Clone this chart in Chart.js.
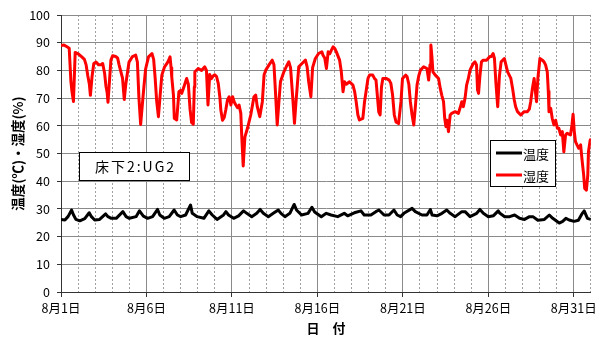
<!DOCTYPE html>
<html>
<head>
<meta charset="utf-8">
<script src="https://cdn.jsdelivr.net/npm/chart.js@4"></script>
<style>
  html, body { margin: 0; padding: 0; background: #fff; }
  canvas { display: block; }
</style>
</head>
<body>
<canvas id="c" width="601" height="340"></canvas>
<script>
// Days elapsed since 8/1 00:00, and the date labels shown on the x axis
const tickDays = [0, 5, 10, 15, 20, 25, 30];
const tickLabels = ['8月1日', '8月6日', '8月11日', '8月16日', '8月21日', '8月26日', '8月31日'];

const seriesNames = ['温度', '湿度'];
const locationLabel = '床下2:UG2';

// Temperature (°C)
const tempDays = [0.0, 0.23, 0.42, 0.62, 0.72, 0.87, 1.1, 1.39, 1.65, 1.78, 1.97, 2.26, 2.61, 2.75, 2.94,
  3.23, 3.62, 3.81, 4.0, 4.39, 4.59, 4.82, 5.07, 5.36, 5.65, 5.78, 6.04, 6.33, 6.62, 6.81, 7.0, 7.29,
  7.58, 7.68, 7.97, 8.36, 8.65, 8.85, 9.13, 9.51, 9.65, 9.8, 10.1, 10.39, 10.68, 10.87, 11.16, 11.45,
  11.65, 11.84, 12.13, 12.42, 12.71, 12.87, 13.1, 13.39, 13.64, 13.78, 14.07, 14.45, 14.68, 14.84,
  15.23, 15.52, 15.8, 16.19, 16.57, 16.77, 17.16, 17.55, 17.74, 18.13, 18.42, 18.6, 18.9, 19.19,
  19.48, 19.67, 19.87, 20.06, 20.54, 20.73, 21.12, 21.41, 21.61, 21.71, 22.0, 22.29, 22.57, 22.77,
  23.06, 23.45, 23.64, 23.93, 24.32, 24.51, 24.71, 25.0, 25.29, 25.58, 25.68, 25.96, 26.25, 26.54,
  26.83, 27.12, 27.41, 27.61, 27.9, 28.28, 28.57, 28.77, 29.15, 29.35, 29.54, 29.73, 30.02, 30.27,
  30.5, 30.61, 30.8, 31.0];
const tempValues = [26.2, 26.0, 27.3, 29.6, 28.0, 26.2, 25.7, 26.5, 28.6, 27.2, 26.0, 26.2, 28.2, 27.2, 26.6,
  26.6, 29.0, 27.2, 26.6, 27.2, 29.3, 27.4, 26.6, 27.2, 29.8, 27.8, 26.6, 27.2, 29.6, 27.8, 27.2, 27.8,
  31.4, 28.4, 27.2, 26.6, 29.3, 27.8, 26.2, 27.8, 29.0, 27.8, 26.6, 27.5, 29.3, 28.4, 27.2, 28.4,
  29.8, 28.4, 27.2, 28.4, 29.6, 28.4, 27.2, 28.4, 31.6, 29.6, 27.8, 28.4, 30.6, 28.9,
  27.2, 28.4, 27.8, 27.2, 28.4, 27.5, 28.6, 29.3, 27.8, 27.8, 29.0, 29.6, 27.8, 27.8,
  29.6, 27.8, 27.2, 28.4, 30.2, 29.0, 27.8, 27.8, 29.8, 27.8, 27.5, 28.4, 29.6, 28.4,
  27.2, 29.0, 29.0, 27.2, 28.4, 29.8, 28.4, 27.2, 27.5, 29.3, 28.4, 27.2, 27.2, 27.8,
  26.6, 26.2, 27.2, 27.2, 25.9, 26.2, 27.8, 26.6, 24.9, 25.5, 26.6, 26.0, 25.5, 25.9,
  28.4, 29.3, 26.6, 26.2];

// Relative humidity (%)
const humDays = [0.0, 0.17, 0.35, 0.48, 0.58, 0.64, 0.73, 0.83, 1.0, 1.2, 1.37, 1.47, 1.57, 1.66, 1.72,
  1.82, 1.92, 2.05, 2.2, 2.35, 2.44, 2.55, 2.63, 2.7, 2.75, 2.92, 3.02, 3.2, 3.31, 3.4, 3.5, 3.6, 3.7,
  3.79, 3.98, 4.18, 4.37, 4.47, 4.56, 4.66, 4.82, 4.95, 5.12, 5.32, 5.42, 5.51, 5.6, 5.7, 5.8, 5.9,
  6.06, 6.2, 6.3, 6.38, 6.44, 6.48, 6.58, 6.63, 6.77, 6.9, 7.0, 7.06, 7.16, 7.35, 7.45, 7.55, 7.64,
  7.74, 7.8, 7.83, 8.03, 8.22, 8.41, 8.51, 8.6, 8.7, 8.8, 8.9, 9.0, 9.1, 9.2, 9.3, 9.35, 9.45, 9.55,
  9.64, 9.74, 9.84, 9.94, 10.04, 10.14, 10.23, 10.33, 10.42, 10.52, 10.57, 10.62, 10.66, 10.76,
  10.91, 11.1, 11.29, 11.39, 11.48, 11.63, 11.78, 11.88, 11.98, 12.17, 12.36, 12.46, 12.55, 12.65,
  12.75, 12.84, 13.04, 13.23, 13.33, 13.43, 13.56, 13.66, 13.75, 13.91, 14.1, 14.3, 14.4, 14.49,
  14.62, 14.72, 14.88, 15.07, 15.26, 15.33, 15.43, 15.53, 15.63, 15.72, 15.82, 15.92, 16.01, 16.11,
  16.3, 16.4, 16.5, 16.59, 16.69, 16.88, 17.08, 17.18, 17.27, 17.37, 17.46, 17.66, 17.76, 17.96,
  18.05, 18.24, 18.34, 18.43, 18.59, 18.67, 18.75, 18.83, 19.02, 19.2, 19.3, 19.4, 19.5, 19.6,
  19.75, 19.89, 19.98, 20.17, 20.25, 20.35, 20.44, 20.54, 20.64, 20.74, 20.83, 20.93, 21.03, 21.22,
  21.41, 21.51, 21.59, 21.64, 21.7, 21.76, 21.9, 22.09, 22.19, 22.28, 22.38, 22.45, 22.52, 22.58,
  22.67, 22.77, 22.86, 23.06, 23.25, 23.35, 23.45, 23.54, 23.64, 23.73, 23.83, 23.93, 24.12, 24.22,
  24.31, 24.37, 24.43, 24.51, 24.6, 24.7, 24.9, 25.09, 25.18, 25.28, 25.36, 25.45, 25.55, 25.65,
  25.75, 25.94, 26.03, 26.13, 26.32, 26.42, 26.52, 26.6, 26.71, 26.9, 27.1, 27.29, 27.4, 27.48,
  27.58, 27.68, 27.78, 27.82, 27.9, 28.02, 28.16, 28.26, 28.35, 28.45, 28.51, 28.55, 28.65, 28.74,
  28.84, 28.94, 29.04, 29.13, 29.23, 29.33, 29.42, 29.52, 29.61, 29.81, 29.9, 29.96, 30.03, 30.1,
  30.19, 30.29, 30.4, 30.48, 30.58, 30.64, 30.74, 30.82, 30.86, 30.96, 31.0];
const humValues = [89.0, 89.2, 88.5, 88.0, 76.0, 72.5, 68.8, 86.5, 86.0, 85.0, 84.0, 82.0, 78.0, 75.0, 71.0,
  78.0, 82.5, 83.0, 82.0, 82.0, 82.5, 79.0, 74.3, 72.0, 68.5, 83.7, 85.3, 85.0, 84.5, 82.0, 79.6, 77.2, 69.5,
  75.0, 83.0, 85.0, 85.5, 83.0, 70.0, 60.5, 72.0, 80.5, 84.9, 86.1, 84.0, 77.1, 68.7, 63.3, 71.0, 78.3,
  81.3, 82.5, 83.7, 84.9, 81.0, 77.7, 71.0, 62.7, 62.1, 72.3, 72.8, 71.7, 73.5, 77.1, 75.0, 66.0, 61.2,
  60.6, 74.0, 79.5, 80.7, 80.0, 81.3, 80.0, 67.5, 78.5, 77.0, 78.0, 78.4, 77.8, 75.3, 70.0, 65.7, 62.0, 63.0,
  65.7, 69.3, 70.5, 67.5, 70.5, 68.5, 67.5, 66.5, 67.5, 64.5, 57.0, 50.6, 45.5, 56.0,
  59.1, 63.9, 70.5, 71.1, 67.0, 63.3, 68.7, 78.3, 80.1, 82.0, 83.7, 82.0, 72.0, 60.3,
  68.7, 75.9, 79.5, 82.0, 83.1, 81.0, 70.0, 60.9, 68.7, 81.3, 82.5, 83.7, 81.3, 76.0,
  70.5, 81.0, 84.3, 86.1, 86.7, 85.5, 84.5, 80.7, 86.7, 86.0, 87.3, 88.5, 88.0, 86.7,
  83.7, 79.5, 72.3, 75.9, 75.0, 75.9, 74.7, 72.3, 68.7, 63.9, 62.1, 62.7, 68.7, 77.1,
  78.3, 78.3, 77.1, 76.5, 65.0, 63.9, 74.0, 77.1, 77.1, 76.5, 75.3, 71.1, 63.9, 61.4,
  60.8, 68.7, 77.1, 78.3, 77.7, 75.0, 68.7, 63.9, 60.3, 67.5, 74.7, 78.0, 80.1, 81.3,
  80.7, 76.5, 82.0, 89.2, 85.0, 79.5, 78.3, 77.1, 73.5, 71.0, 68.7, 62.7, 59.7, 62.0,
  57.9, 63.9, 64.5, 65.1, 64.5, 66.5, 68.7, 66.9, 70.0, 74.7, 77.0, 80.1, 82.5, 83.1,
  82.0, 73.0, 71.7, 78.0, 83.1, 83.7, 83.7, 85.0, 85.0, 86.1, 84.3, 75.0, 66.9, 78.0,
  83.1, 84.3, 82.0, 79.5, 77.1, 73.5, 69.3, 66.9, 65.1, 63.9, 65.1, 65.1, 66.0, 68.7,
  73.5, 77.1, 71.0, 68.7, 77.1, 84.3, 83.7, 83.1, 82.0, 79.5, 72.5, 65.1, 66.3, 62.7,
  60.3, 62.0, 59.1, 59.1, 56.7, 57.9, 50.6, 56.7, 57.3, 56.7, 60.6, 64.2, 58.0, 54.3,
  53.1, 51.9, 53.1, 48.0, 42.2, 37.4, 36.8, 42.2, 50.6, 54.8, 55.5];

const FONT = '"Noto Sans CJK JP", "Noto Sans", sans-serif';

function toPoints(xs, ys) {
  return xs.map((x, i) => ({ x: x, y: ys[i] }));
}

// Caption box and series key drawn on top of the plot area
const overlayBoxes = {
  id: 'overlayBoxes',
  afterDatasetsDraw(chart) {
    const ctx = chart.ctx;
    ctx.save();

    // caption box
    ctx.fillStyle = '#fff';
    ctx.fillRect(79.5, 152.5, 110, 28);
    ctx.strokeStyle = '#000';
    ctx.lineWidth = 1;
    ctx.strokeRect(79.5, 152.5, 110, 28);
    ctx.fillStyle = '#000';
    ctx.font = '14px ' + FONT;
    ctx.letterSpacing = '2px';
    ctx.textAlign = 'center';
    ctx.textBaseline = 'middle';
    ctx.fillText(locationLabel, 135.5, 167);
    ctx.letterSpacing = '0px';

    // series key
    ctx.fillStyle = '#fff';
    ctx.fillRect(490.5, 140.5, 65, 46);
    ctx.strokeRect(490.5, 140.5, 65, 46);
    ctx.textAlign = 'left';
    chart.data.datasets.forEach((ds, i) => {
      const y = 153 + i * 22;
      ctx.strokeStyle = ds.borderColor;
      ctx.lineWidth = 3;
      ctx.beginPath();
      ctx.moveTo(496, y);
      ctx.lineTo(522, y);
      ctx.stroke();
      ctx.fillStyle = '#000';
      ctx.font = '13px ' + FONT;
      ctx.fillText(ds.label, 523, y + 1);
    });
    ctx.restore();
  }
};

new Chart(document.getElementById('c'), {
  type: 'line',
  data: {
    datasets: [
      {
        label: seriesNames[0],
        data: toPoints(tempDays, tempValues),
        borderColor: '#000000',
        borderWidth: 3,
        pointRadius: 0,
        tension: 0,
        borderJoinStyle: 'round'
      },
      {
        label: seriesNames[1],
        data: toPoints(humDays, humValues),
        borderColor: '#ff0000',
        borderWidth: 3,
        pointRadius: 0,
        tension: 0,
        borderJoinStyle: 'round'
      }
    ]
  },
  options: {
    responsive: false,
    animation: false,
    devicePixelRatio: 1,
    layout: { padding: { left: 0, right: 6, top: 15, bottom: 0 } },
    plugins: {
      legend: { display: false },
      tooltip: { enabled: false }
    },
    scales: {
      x: {
        type: 'linear',
        position: 'bottom',
        min: 0,
        max: 31,
        afterBuildTicks(scale) {
          scale.ticks = tickDays.map(v => ({ value: v }));
        },
        afterFit(scale) { scale.height = 48; },
        ticks: {
          autoSkip: false,
          maxRotation: 0,
          padding: 4,
          color: '#000',
          font: { family: FONT, size: 12.5 },
          callback: (v) => {
            const i = tickDays.indexOf(v);
            return i >= 0 ? tickLabels[i] : '';
          }
        },
        grid: {
          color: '#8a8a8a',
          lineWidth: 1,
          tickLength: 5,
          tickColor: '#333'
        },
        border: { color: '#333', width: 1 },
        title: {
          display: true,
          text: '日　付',
          color: '#000',
          font: { family: FONT, size: 13, weight: 'bold' },
          padding: { top: 0, bottom: 4 }
        }
      },
      xDays: {
        type: 'linear',
        position: 'top',
        min: 0,
        max: 31,
        afterBuildTicks(scale) {
          const t = [];
          for (let d = 0; d <= 31; d++) t.push({ value: d });
          scale.ticks = t;
        },
        afterFit(scale) { scale.height = 0; },
        ticks: { display: false },
        grid: {
          drawTicks: false,
          color: (c) => (c.tick && c.tick.value % 5 === 0 && c.tick.value < 31) ? 'rgba(0,0,0,0)' : '#a0a0a0',
          lineWidth: 1
        },
        border: { display: false, dash: [2, 2] }
      },
      y: {
        min: 0,
        max: 100,
        afterFit(scale) { scale.width = 61; },
        ticks: {
          stepSize: 10,
          padding: 7,
          color: '#000',
          font: { family: FONT, size: 12.5 }
        },
        grid: {
          color: '#8a8a8a',
          lineWidth: 1,
          tickLength: 4,
          tickColor: '#333'
        },
        border: { color: '#333', width: 1 },
        title: {
          display: true,
          text: '温度(℃)・湿度(%)',
          color: '#000',
          font: { family: FONT, size: 13.5, weight: 'bold' },
          padding: { top: 10, bottom: 0 }
        }
      }
    }
  },
  plugins: [overlayBoxes]
});
</script>
</body>
</html>
